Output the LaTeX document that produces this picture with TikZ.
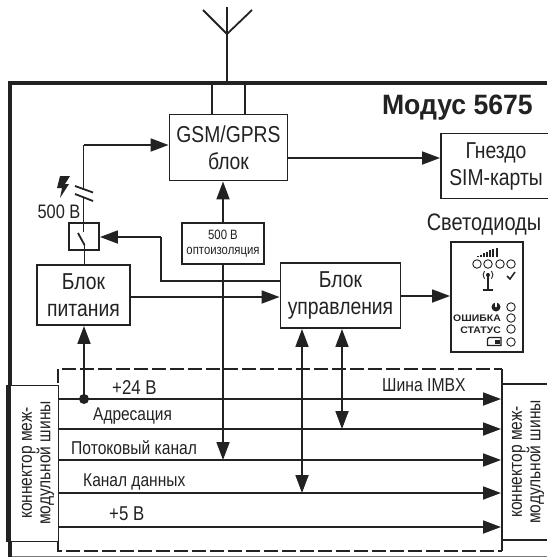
\documentclass[tikz,border=0pt]{standalone}
\usepackage{fontspec}
\setmainfont[FakeStretch=0.84]{Liberation Sans}
\newfontfamily\widefont[FakeStretch=1.1]{Liberation Sans}
\newfontfamily\titlefont[FakeStretch=0.95]{Liberation Sans}
\usetikzlibrary{arrows.meta}
\definecolor{ink}{HTML}{222222}
\tikzset{
  x=1pt,y=-1pt,
  every path/.style={color=ink},
  wire/.style={draw=ink,line width=1.8pt},
  tip/.tip={Triangle[length=18pt,width=13pt]},
  head/.style={-tip},
  dhead/.style={tip-tip},
  blockbox/.style={draw=ink,line width=1.9pt,fill=white,minimum width=0pt,inner sep=0pt,align=center,text=ink},
  lbl/.style={inner sep=0pt,text=ink,align=center,font=\fontsize{23}{27}\selectfont},
  led/.style={draw=ink,line width=0.9pt,fill=white,circle,minimum size=8.5pt,inner sep=0pt},
  tiny/.style={inner sep=0pt,text=ink,font=\widefont\bfseries\fontsize{9.5}{10}\selectfont},
}
\begin{document}
\begin{tikzpicture}
\useasboundingbox (0,0) rectangle (547,557);
\fill[white] (0,0) rectangle (547,557);
% antenna
\coordinate (antTop) at (227,7);
\coordinate (antV) at (227,34);
\coordinate (antL) at (203,10);
\coordinate (antR) at (252,10);
\coordinate (topC) at (227,82);
\draw[wire] (antTop) -- (topC);
\draw[wire] (antL) -- (antV) -- (antR);
% border
\draw[draw=ink,line width=4pt] (547,83) -- (10,83) -- (10,557);
\draw[draw=ink!60,line width=0.7pt] (12,556) -- (547,556);
% blocks
\node[blockbox,minimum width=118pt,minimum height=66pt,lbl] (gsm) at (228.5,147.5) {GSM/GPRS\\блок};
\node[blockbox,minimum width=110pt,minimum height=65pt,lbl] (sim) at (496,166) {Гнездо\\SIM-карты};
\node[blockbox,minimum width=93pt,minimum height=60pt,lbl] (psu) at (83.5,295) {Блок\\питания};
\node[blockbox,minimum width=120pt,minimum height=65pt,lbl] (ctrl) at (340.5,295.5) {Блок\\управления};
\node[blockbox,minimum width=82pt,minimum height=41pt,font=\fontsize{13.5}{14}\selectfont,text=ink] (opto) at (223,243.5) {500 В\\[1pt]{\fontsize{13.5}{14}\selectfont оптоизоляция}};
\node[blockbox,minimum width=30pt,minimum height=27pt] (sw) at (84,236.5) {};
\node[blockbox,minimum width=72pt,minimum height=110pt] (ledbox) at (487,297) {};
% antenna feed
\coordinate (fL) at (212,84); \coordinate (fR) at (245,84);
\draw[wire] (fL) -- (fL |- gsm.north);
\draw[wire] (fR) -- (fR |- gsm.north);
% power to GSM
\coordinate (corner) at (83.5,145);
\coordinate (swTop) at (83.5,232);
\coordinate (swBot) at (84.5,245);
\draw[wire] (swTop) -- (83.5,197.5);
\draw[wire] (83.5,189) -- (corner);
\draw[wire,head] (corner) -- (gsm.west |- corner);
\draw[wire] (75,186) -- (93,192.5);
\draw[wire] (75,194) -- (93,201);
% bolt
\fill[ink] (60,176) -- (70,176) -- (65,184) -- (69,184) -- (60,198) -- (62,188) -- (57,188) -- cycle;
\node[lbl,font=\fontsize{19.5}{22}\selectfont] (v500) at (59,212) {500 В};
% switch
\draw[wire] (swBot) -- (swBot |- psu.north);
\draw[wire] (78,233) -- (swBot);
% control to switch
\coordinate (ctrlA) at (161,281);
\coordinate (ctrlB) at (161,237);
\draw[wire] (ctrl.west |- ctrlA) -- (ctrlA) -- (ctrlB);
\draw[wire,head] (ctrlB) -- (sw.east |- ctrlB);
% psu to control
\draw[wire,head] (psu.east |- 0,297) -- (ctrl.west |- 0,297);
% opto
\draw[wire,head] (opto.north) -- (gsm.south -| opto.north);
% ctrl outputs
\draw[wire,head] (ctrl.east |- 0,296) -- (ledbox.west |- 0,296);
\draw[wire,head] (gsm.east |- 0,158) -- (sim.west |- 0,158);
% dashed bus box
\draw[draw=ink,line width=1.5pt,dash pattern=on 14pt off 4pt] (58,383) -- (58,369) -- (502,369);
\draw[draw=ink,line width=1.5pt,dash pattern=on 14pt off 4pt] (58,541) -- (58,551) -- (502,551);
% connectors
\node[blockbox,minimum width=50pt,minimum height=156pt,anchor=north west,line width=1.4pt] (conL) at (8,385) {};
\draw[draw=ink,line width=5pt] (conL.north west) -- (conL.south west);
\draw[draw=ink,line width=1.6pt] (502,369) -- (502,551);
\coordinate (conRt) at (502,384); \coordinate (conRb) at (502,540);
\draw[draw=ink,line width=1.4pt] (conRt) -- (547,384);
\draw[draw=ink,line width=1.4pt] (conRb) -- (547,540);
\node[lbl,rotate=90,font=\fontsize{18.5}{17}\selectfont] (tL) at (38,463) {коннектор меж-\\модульной шины};
\node[lbl,rotate=90,font=\fontsize{18.5}{17}\selectfont] (tR) at (528,462) {коннектор меж-\\модульной шины};
% bus lines
\foreach \n/\y in {a/399,b/429,c/460,d/493,e/527}{
  \coordinate (s\n) at (58,\y);
  \coordinate (t\n) at (501,\y);
  \draw[wire,head] (s\n) -- (t\n);
}
\node[lbl,anchor=west,font=\fontsize{20}{22}\selectfont] (l1) at (112,388) {+24 В};
\node[lbl,anchor=west,font=\fontsize{18.4}{20}\selectfont] (l2) at (93,416) {Адресация};
\node[lbl,anchor=west,font=\fontsize{18.6}{20}\selectfont] (l3) at (71,448) {Потоковый канал};
\node[lbl,anchor=west,font=\fontsize{18.5}{20}\selectfont] (l4) at (83,482) {Канал данных};
\node[lbl,anchor=west,font=\fontsize{20}{22}\selectfont] (l5) at (109,514) {+5 В};
\node[lbl,anchor=west,font=\fontsize{18.7}{20}\selectfont] (l6) at (382,385) {Шина IMBX};
% vertical links
\coordinate (dot) at (84,399);
\fill[ink] (dot) circle (5pt);
\draw[wire,-tip] (dot) -- (psu.south -| dot);
\draw[wire,-tip] (opto.south) -- (opto.south |- sc);
\draw[wire,dhead] (ctrl.south -| 302,0) -- (302,493);
\draw[wire,dhead] (ctrl.south -| 342,0) -- (342,429);
% titles
\node[lbl,anchor=east,font=\titlefont\bfseries\fontsize{28}{30}\selectfont] (title) at (533,108) {Модус 5675};
\node[lbl,font=\fontsize{23.8}{26}\selectfont] (leds) at (484,225) {Светодиоды};
% LED panel
\foreach \n/\x in {1/477,2/488,3/500,4/511}{\node[led] (p\n) at (\x,264) {};}
\foreach \n/\y in {5/307,6/318,7/329,8/342}{\node[led] (p\n) at (511,\y) {};}
\foreach \x/\h in {478/1.5,481/2.5,484/4,487/5.5,490/7,493/8.5,497/9.5}{\fill[ink] (\x-1,257) rectangle (\x+0.8,257-\h);}
\draw[draw=ink,line width=1.5pt] (507,276) -- (510,279) -- (515,272);
\draw[draw=ink,line width=1.2pt] (488,273) -- (488,290);
\draw[draw=ink,line width=1.2pt] (483,290) -- (493,290);
\fill[ink] (488,275) circle (2pt);
\draw[draw=ink,line width=0.9pt] (484.5,271) arc[start angle=140,end angle=220,radius=6pt];
\draw[draw=ink,line width=0.9pt] (491.5,271) arc[start angle=40,end angle=-40,radius=6pt];
\fill[ink] (496,307) circle (4.5pt);
\fill[white] (495.2,302) rectangle (496.8,307);
\node[tiny,anchor=east] (err) at (501,318.5) {ОШИБКА};
\node[tiny,anchor=east] (st) at (501,330) {СТАТУС};
\draw[draw=ink,line width=1.2pt,fill=white] (489,337.5) -- (501,337.5) -- (501,345.5) -- (487.5,345.5) -- (487.5,339) -- cycle;
\fill[ink] (495,339.5) rectangle (500,344);
\end{tikzpicture}
\end{document}
